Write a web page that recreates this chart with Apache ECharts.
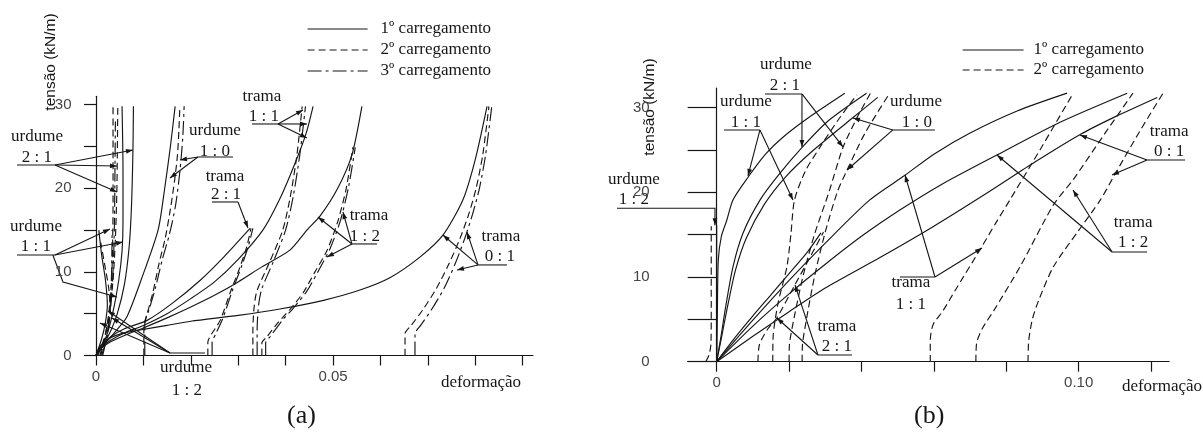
<!DOCTYPE html>
<html><head><meta charset="utf-8">
<script src="https://cdn.jsdelivr.net/npm/echarts@6/dist/echarts.min.js"></script>
<style>html,body{margin:0;padding:0;background:#fff}#c{width:1203px;height:438px}</style>
</head><body><div id="c"></div>
<script>
// ================= DATA : [deformação, tensão (kN/m)] =================
const LOADS = ['1º carregamento', '2º carregamento', '3º carregamento'];

// ---- panel (a) ----
const a_urd21_1 = [[0,0],[0.0015,1.2],[0.003,2.8],[0.0045,5],[0.006,8.5],[0.007,13],[0.0075,18],[0.0078,24.6],[0.0079,29.8]];
const a_urd21_2 = [[0.0008,0],[0.0018,2],[0.0028,5],[0.0036,9],[0.0041,14],[0.0044,19.5],[0.0045,24],[0.0046,29.8]];
const a_urd21_3 = [[0.0012,0],[0.0022,2],[0.003,5],[0.0036,10],[0.0039,16],[0.004,22],[0.0041,28]];
const a_urd11_1 = [[0,0],[0.002,2],[0.0035,5],[0.0048,9],[0.0055,12.5],[0.0057,16],[0.0057,22],[0.0055,29.8]];
const a_urd11_2 = [[0.001,0],[0.002,2.5],[0.0028,5.5],[0.0033,9],[0.0035,13],[0.0036,18],[0.0036,24],[0.0036,29.8]];
const a_urd11_3 = [[0.0014,0],[0.0024,2.5],[0.003,6],[0.0033,10],[0.0034,15]];
const a_urd12_1 = [[0,0],[0.0012,2],[0.002,4],[0.0024,6],[0.002,9],[0.0012,12],[0.0006,15]];
const a_urd12_2 = [[0.0004,0],[0.0014,1.5],[0.0024,3.5],[0.003,5.5],[0.0027,8],[0.0018,11],[0.001,13.5]];
const a_urd10_1 = [[0,0],[0.002,1.5],[0.004,2.8],[0.0065,4.6],[0.0095,9],[0.0131,15],[0.0145,20],[0.0157,25],[0.0167,29.8]];
const a_urd10_2 = [[0.0101,0],[0.0101,3.5],[0.0108,5],[0.012,7.5],[0.0133,11],[0.0146,14],[0.0157,17.5],[0.0166,21],[0.0172,24],[0.0175,27],[0.0177,29.8]];
const a_urd10_3 = [[0.0103,0],[0.0103,3.8],[0.0112,5.5],[0.0125,8],[0.014,11.5],[0.0155,14.5],[0.0168,18],[0.0177,22],[0.0183,26],[0.0186,29.8]];
const a_tr21_1 = [[0,0],[0.001,1],[0.003,2.2],[0.006,3.2],[0.0108,4.2],[0.016,6.2],[0.022,9],[0.027,11.8],[0.0325,15.2]];
const a_tr21_2 = [[0.0236,0],[0.0236,1.6],[0.0243,2.5],[0.0262,4.2],[0.0283,7.5],[0.0304,10.6],[0.0318,13],[0.0327,15.2]];
const a_tr21_3 = [[0.0245,0],[0.0245,1.6],[0.0252,2.5],[0.0268,4.5],[0.0288,7.8],[0.0308,10.8],[0.0322,13.2],[0.0331,15.2]];
const a_tr11_1 = [[0,0],[0.001,0.9],[0.003,1.8],[0.006,2.7],[0.01,3.6],[0.015,5],[0.02,6.8],[0.025,8.8],[0.03,11.5],[0.0352,15],[0.039,19],[0.042,23],[0.0443,26.5],[0.0458,29.8]];
const a_tr11_2 = [[0.0331,0],[0.0331,3],[0.0334,6],[0.034,7.8],[0.0365,11],[0.0394,15],[0.041,19],[0.0424,24],[0.0435,29.8]];
const a_tr11_3 = [[0.0340,0],[0.0340,3],[0.0343,6],[0.035,8],[0.0374,11.2],[0.04,15],[0.0416,19],[0.043,24],[0.0442,29.8]];
const a_tr12_1 = [[0,0],[0.001,0.8],[0.003,1.6],[0.006,2.4],[0.01,3.3],[0.015,4.5],[0.02,5.8],[0.025,7.2],[0.03,8.8],[0.035,10.6],[0.0409,12.6],[0.0445,15],[0.0473,16.7],[0.051,20],[0.054,24],[0.0561,29.8]];
const a_tr12_2 = [[0.0350,0],[0.0350,1.5],[0.036,2.2],[0.0385,4],[0.0409,5.5],[0.0437,7.5],[0.0462,10],[0.0487,12.5],[0.051,16],[0.0528,20],[0.0542,24.9]];
const a_tr12_3 = [[0.0358,0],[0.0358,1.5],[0.0368,2.3],[0.0393,4.2],[0.0417,5.7],[0.0445,7.7],[0.047,10.2],[0.0494,12.8],[0.0516,16.2],[0.0533,20.2],[0.0547,24.9]];
const a_tr01_1 = [[0,0],[0.001,1.2],[0.003,2.1],[0.006,2.7],[0.0093,3.05],[0.015,3.6],[0.02,4.1],[0.03,4.8],[0.0388,5.56],[0.048,6.6],[0.0557,7.83],[0.062,9.3],[0.0684,11.8],[0.0732,14.4],[0.0774,18.6],[0.08,23.4],[0.0825,29.8]];
const a_tr01_2 = [[0.0652,0],[0.0652,2.6],[0.0665,3.6],[0.069,5.5],[0.0718,8],[0.0745,11],[0.0768,14],[0.0787,17],[0.0802,20],[0.0816,24],[0.0829,29.8]];
const a_tr01_3 = [[0.0673,0],[0.0673,2.6],[0.0685,3.6],[0.0708,5.5],[0.0734,8],[0.0758,11],[0.0778,14],[0.0795,17],[0.0809,20],[0.0822,24],[0.0835,29.8]];

// ---- panel (b) ----
const b_urd12_1 = [[0,0],[0,8],[0,16.1]];
const b_urd12_2 = [[-0.003,0],[-0.0021,0.8],[-0.0016,2],[-0.0015,5],[-0.0015,16]];
const b_urd11_1 = [[0,0],[0.0002,6],[0.00045,12],[0.0013,14.8],[0.0028,16.7],[0.0045,19.1],[0.0087,21.8],[0.0135,24.5],[0.0183,26.5],[0.026,29],[0.0354,31.7]];
const b_urd11_2 = [[0.0155,0],[0.0156,3],[0.017,7],[0.0194,11.2],[0.0205,15],[0.0215,19.1],[0.0245,22.5],[0.0285,25.3],[0.0335,28.5],[0.0387,31.5]];
const b_urd21_1 = [[0,0],[0.0012,3],[0.0025,6.5],[0.0045,11.2],[0.0073,15.2],[0.012,19.1],[0.017,22],[0.0236,25.3],[0.031,28.5],[0.0414,31.7]];
const b_urd21_2 = [[0.020,0],[0.0201,2],[0.0213,5],[0.0238,10],[0.027,15],[0.031,20],[0.0349,25.3],[0.039,29],[0.0425,31.7]];
const b_urd10_1 = [[0,0],[0.0014,3],[0.003,6.5],[0.0052,10.8],[0.0082,14.6],[0.0132,18.6],[0.019,21.8],[0.026,24.7],[0.0376,28.8],[0.0445,31.2]];
const b_urd10_2 = [[0.0236,0],[0.0237,2],[0.0248,5],[0.027,10],[0.0298,15],[0.0333,20],[0.036,22.6],[0.041,27],[0.0478,31.7]];
const b_tr21_1 = [[0,0],[0.005,2.8],[0.01,5.4],[0.015,7.9],[0.02,10.4],[0.025,12.9],[0.0288,15.2]];
const b_tr21_2 = [[0.0114,0],[0.0118,2],[0.014,3.8],[0.0166,5.16],[0.0216,9.06],[0.026,12.5],[0.0295,15.3]];
const b_tr11_1 = [[0,0],[0.01,4.9],[0.02,9.6],[0.03,14],[0.0423,19.1],[0.052,22],[0.06,24.5],[0.07,27],[0.083,29.6],[0.0968,31.7]];
const b_tr11_2 = [[0.059,0],[0.059,2.5],[0.0598,4.4],[0.0625,6],[0.066,8.5],[0.0727,13.2],[0.077,16.3],[0.081,19.1],[0.0893,25],[0.0985,31.7]];
const b_tr12_1 = [[0,0],[0.01,4.2],[0.02,8],[0.03,11.5],[0.04,14.8],[0.0506,17.9],[0.062,20.9],[0.0774,24.4],[0.095,28.3],[0.1134,31.7]];
const b_tr12_2 = [[0.0716,0],[0.0718,2.2],[0.0735,4],[0.0765,6],[0.0838,11.2],[0.093,18.5],[0.0985,21.5],[0.107,26.8],[0.115,31.7]];
const b_tr01_1 = [[0,0],[0.01,3],[0.02,5.9],[0.03,8.7],[0.0451,12.3],[0.06,16],[0.075,20],[0.088,23.6],[0.1003,26.8],[0.11,28.9],[0.1217,31.2]];
const b_tr01_2 = [[0.086,0],[0.0862,2.5],[0.0872,5],[0.089,7.3],[0.093,11.2],[0.1,15.5],[0.106,19.1],[0.1105,22.5],[0.117,27.3],[0.1233,31.7]];

// ---- tick values and labels ----
const xTicksA = [0,0.01,0.02,0.03,0.04,0.05,0.06,0.07,0.08,0.09];
const xLabelValsA = [0, 0.05];
const xLabelTextA = ['0', '0.05'];
const xTicksB = [0,0.02,0.04,0.06,0.08,0.10,0.12];
const xLabelValsB = [0, 0.10];
const xLabelTextB = ['0', '0.10'];
const yTicks = [0,5,10,15,20,25,30];
const yLabelVals = [0,10,20,30];
const yLabelText = ['0','10','20','30'];

// ---- annotations (data coordinates) ----
const notesA = [
  ['urdume',-0.01245,26.14],['2 : 1',-0.01245,23.62],
  ['urdume',-0.01266,15.37],['1 : 1',-0.01266,12.98],
  ['urdume',0.0190,-1.38],['1 : 2',0.0192,-4.13],
  ['urdume',0.0251,26.96],['1 : 0',0.0251,24.34],
  ['trama',0.02722,21.35],['2 : 1',0.02743,19.2],
  ['trama',0.03502,30.92],['1 : 1',0.03544,28.53],
  ['trama',0.0576,16.69],['1 : 2',0.05675,14.17],
  ['trama',0.08544,14.17],['0 : 1',0.08523,11.78]
];
const underA = [
  [[-0.01667,22.79],[-0.00865,22.79]],[[-0.01667,12.02],[-0.00865,12.02]],
  [[0.01561,0.3],[0.0230,0.3]],[[0.0215,23.74],[0.0289,23.74]],
  [[0.02447,18.36],[0.02996,18.36]],[[0.03291,27.69],[0.0384,27.69]],
  [[0.054,13.34],[0.0593,13.34]],[[0.0806,10.83],[0.0867,10.83]]
];
const arrowsA = [
  [[-0.00865,22.79],[0.0078,24.58]],[[-0.00865,22.79],[0.00443,22.67]],[[-0.00865,22.79],[0.00443,19.56]],
  [[-0.00865,12.02],[0.00295,15.13]],[[-0.00865,12.02],[0.0057,13.58]],[[-0.0091,12.02],[-0.00696,8.79],[0.00443,7.0]],
  [[0.01561,0.3],[0.00084,3.89]],[[0.01561,0.3],[0.00253,5.32]],[[0.01561,0.3],[0.00338,4.49]],
  [[0.0215,23.74],[0.01772,23.38]],[[0.0215,23.74],[0.01561,21.23]],
  [[0.02996,18.36],[0.03207,15.25]],
  [[0.0384,27.69],[0.04367,29.37]],[[0.0384,27.69],[0.04451,27.69]],[[0.0384,27.69],[0.04451,26.02]],
  [[0.054,13.34],[0.04684,16.57]],[[0.054,13.34],[0.05211,17.16]],[[0.054,13.34],[0.04873,11.78]],
  [[0.0806,10.83],[0.0732,14.41]],[[0.0806,10.83],[0.07827,14.77]],[[0.0806,10.83],[0.07616,10.23]]
];
const notesB = [
  ['urdume',0.01914,35.03],['2 : 1',0.01887,32.55],
  ['urdume',0.00809,30.66],['1 : 1',0.00809,28.19],
  ['urdume',-0.02285,21.45],['1 : 2',-0.02285,19.09],
  ['urdume',0.05506,30.66],['1 : 0',0.05533,28.19],
  ['trama',0.03323,4.1],['2 : 1',0.03323,1.74],
  ['trama',0.05367,9.29],['1 : 1',0.05367,6.7],
  ['trama',0.11503,16.38],['1 : 2',0.11503,14.02],
  ['trama',0.125,27.12],['0 : 1',0.125,24.76]
];
const underB = [
  [[0.01334,31.61],[0.02356,31.61]],[[0.00202,27.36],[0.01196,27.36]],
  [[0.04867,27.36],[0.06028,27.36]],[[0.02798,0.79],[0.03738,0.79]],
  [[0.05064,10.0],[0.06031,10.0]],[[0.10922,12.95],[0.11889,12.95]],
  [[0.11887,23.81],[0.12936,23.81]]
];
const arrowsB = [
  [[0.02356,31.61],[0.02356,25.35]],[[0.02356,31.61],[0.03489,25.35]],
  [[0.01196,27.36],[0.00865,21.93]],[[0.01196,27.36],[0.02108,19.09]],
  [[-0.02754,18.12],[-0.00047,18.12],[-0.00047,16.1]],
  [[0.04867,27.36],[0.03765,28.77]],[[0.04867,27.36],[0.036,22.63]],
  [[0.02798,0.79],[0.02163,9.06]],[[0.02798,0.79],[0.01666,5.16]],
  [[0.06031,10.0],[0.05202,22.04]],[[0.06031,10.0],[0.07329,13.42]],
  [[0.10922,12.95],[0.07743,24.4]],[[0.10922,12.95],[0.09843,20.27]],
  [[0.11887,23.81],[0.10036,26.77]],[[0.11887,23.81],[0.1092,22.04]]
];

// ================= CHART =================
const INK = '#161616';
const SERIF = '"Liberation Serif", "DejaVu Serif", serif';
const SANS = '"Liberation Sans", Arial, sans-serif';
const DASH = ['solid', [7,4], [14,4,3,4]];

const curvesA = [
  [a_urd21_1,1],[a_urd21_2,2],[a_urd21_3,3],[a_urd11_1,1],[a_urd11_2,2],[a_urd11_3,3],
  [a_urd12_1,1],[a_urd12_2,2],[a_urd10_1,1],[a_urd10_2,2],[a_urd10_3,3],
  [a_tr21_1,1],[a_tr21_2,2],[a_tr21_3,3],[a_tr11_1,1],[a_tr11_2,2],[a_tr11_3,3],
  [a_tr12_1,1],[a_tr12_2,2],[a_tr12_3,3],[a_tr01_1,1],[a_tr01_2,2],[a_tr01_3,3]
];
const curvesB = [
  [b_urd12_1,1],[b_urd12_2,2],[b_urd11_1,1],[b_urd11_2,2],[b_urd21_1,1],[b_urd21_2,2],
  [b_urd10_1,1],[b_urd10_2,2],[b_tr21_1,1],[b_tr21_2,2],[b_tr11_1,1],[b_tr11_2,2],
  [b_tr12_1,1],[b_tr12_2,2],[b_tr01_1,1],[b_tr01_2,2]
];

const series = [];
function addCurves(list, g) {
  list.forEach(([data, load]) => series.push({
    type: 'line', name: LOADS[load-1], xAxisIndex: g, yAxisIndex: g, data,
    symbol: 'none', showSymbol: false, smooth: 0.25, clip: false, silent: true,
    lineStyle: { color: INK, width: 1.15, type: DASH[load-1] }, itemStyle: { color: INK }
  }));
}
addCurves(curvesA, 0);
addCurves(curvesB, 1);

function fmt(vals, texts) {
  return v => { const i = vals.findIndex(t => Math.abs(t - v) < 1e-9); return i >= 0 ? texts[i] : ''; };
}
function xAx(g, min, max, ticks, lv, lt) {
  return {
    type: 'value', gridIndex: g, min, max, splitLine: { show: false },
    axisLine: { show: true, onZero: true, lineStyle: { color: INK, width: 1.2 } },
    axisTick: { show: true, customValues: ticks, length: 10, lineStyle: { color: INK, width: 1.2 } },
    axisLabel: { customValues: lv, formatter: fmt(lv, lt), margin: 14, color: '#444', fontFamily: SANS, fontSize: 15 }
  };
}
function yAx(g, max, tickLen, margin) {
  return {
    type: 'value', gridIndex: g, min: 0, max, splitLine: { show: false },
    axisLine: { show: true, onZero: true, lineStyle: { color: INK, width: 1.2 } },
    axisTick: { show: true, customValues: yTicks, length: tickLen, lineStyle: { color: INK, width: 1.2 } },
    axisLabel: { customValues: yLabelVals, formatter: fmt(yLabelVals, yLabelText), margin, color: '#444', fontFamily: SANS, fontSize: 15 }
  };
}

const chart = echarts.init(document.getElementById('c'), null, { renderer: 'canvas' });
const legendBase = {
  orient: 'vertical', selectedMode: false, itemHeight: 20,
  itemStyle: { opacity: 0 },
  lineStyle: { width: 1.2 },
  textStyle: { fontFamily: SERIF, fontSize: 17, color: INK, lineHeight: 20 }
};
chart.setOption({
  animation: false,
  backgroundColor: '#fff',
  grid: [
    { left: 86.5, top: 96.3, width: 446.5, height: 259.2 },
    { left: 687.7, top: 88, width: 481.5, height: 273.7 }
  ],
  xAxis: [ xAx(0, -0.002, 0.0922, xTicksA, xLabelValsA, xLabelTextA),
           xAx(1, -0.008, 0.125, xTicksB, xLabelValsB, xLabelTextB) ],
  yAxis: [ yAx(0, 31, 12, 15), yAx(1, 32.31, 29, 38) ],
  legend: [
    Object.assign({}, legendBase, { data: LOADS, left: 302, top: 14, itemWidth: 60, itemGap: 1,
      textStyle: Object.assign({}, legendBase.textStyle, { padding: [0,0,0,8] }) }),
    Object.assign({}, legendBase, { data: LOADS.slice(0,2), left: 957, top: 35, itemWidth: 61, itemGap: 0,
      textStyle: Object.assign({}, legendBase.textStyle, { padding: [0,0,0,5] }) })
  ],
  title: [
    { text: '(a)', left: 287, top: 403, padding: 0, textStyle: { fontFamily: SERIF, fontSize: 26, fontWeight: 'normal', color: INK } },
    { text: '(b)', left: 914, top: 403, padding: 0, textStyle: { fontFamily: SERIF, fontSize: 26, fontWeight: 'normal', color: INK } }
  ],
  series
});

// ---- annotation graphics, placed through the axes' own scales ----
const els = [];
function P(g, p) { return chart.convertToPixel({ gridIndex: g }, p); }
function text(str, x, y, font, rot) {
  els.push({ type: 'text', x, y, rotation: rot || 0, silent: true,
    style: { text: str, font, fill: INK, align: 'center', verticalAlign: 'middle', textAlign: 'center', textVerticalAlign: 'middle' } });
}
function poly(pts) {
  els.push({ type: 'polyline', silent: true, shape: { points: pts }, style: { stroke: INK, lineWidth: 1.1, fill: null } });
}
function arrowHead(p0, p1) {
  const dx = p1[0]-p0[0], dy = p1[1]-p0[1], L = Math.hypot(dx, dy) || 1;
  const ux = dx/L, uy = dy/L, len = 7, w = 2.4;
  const bx = p1[0]-ux*len, by = p1[1]-uy*len;
  els.push({ type: 'polygon', silent: true, shape: { points: [p1, [bx-uy*w, by+ux*w], [bx+uy*w, by-ux*w]] }, style: { fill: INK } });
}
function addNotes(g, notes, unders, arrows) {
  notes.forEach(([s, x, y]) => { const p = P(g, [x, y]); text(s, p[0], p[1], '17px ' + SERIF); });
  unders.forEach(seg => poly(seg.map(q => P(g, q))));
  arrows.forEach(seg => { const pts = seg.map(q => P(g, q)); poly(pts); arrowHead(pts[pts.length-2], pts[pts.length-1]); });
}
addNotes(0, notesA, underA, arrowsA);
addNotes(1, notesB, underB, arrowsB);

// axis titles
text('tensão (kN/m)', 51, 62, '15.5px ' + SANS, Math.PI/2);
text('tensão (kN/m)', 650, 107, '15.5px ' + SANS, Math.PI/2);
text('deformação', 481, 383, '17px ' + SERIF);
text('deformação', 1162, 387, '17px ' + SERIF);

chart.setOption({ graphic: els });
</script>
</body></html>
